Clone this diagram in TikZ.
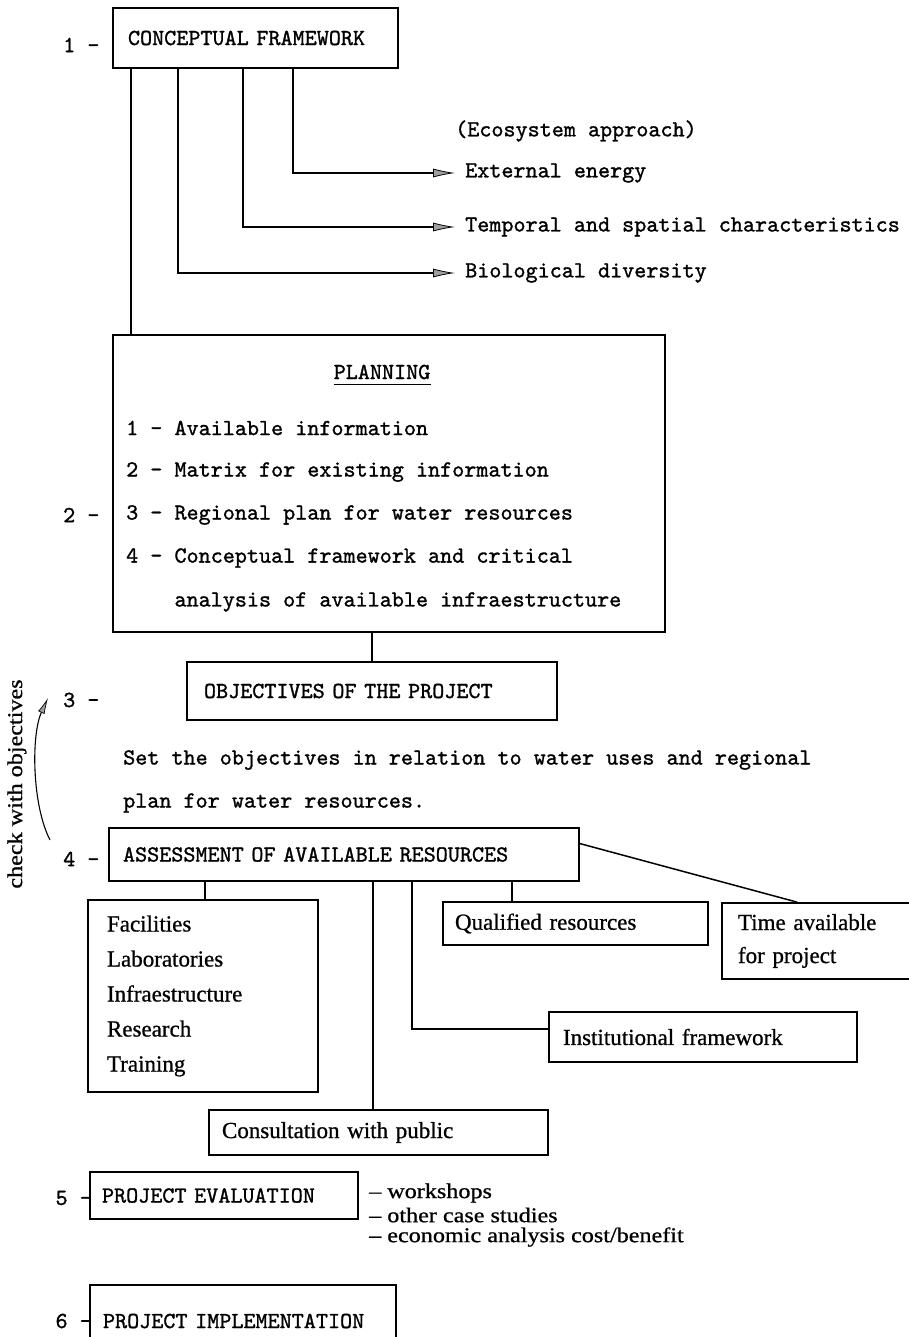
\documentclass[tikz,border=0pt]{standalone}
\usepackage{fontspec}
\newfontfamily\ttx{lmmono10-regular.otf}[FakeBold=1.2]
\newfontfamily\serifL{Liberation Serif}[FakeBold=0.8]
\newfontfamily\serifW{Liberation Serif}[FakeStretch=1.15, FakeBold=0.8]
\usetikzlibrary{arrows.meta,calc}
\begin{document}
\begin{tikzpicture}[x=1pt,y=-1pt,
  box/.style={draw, line width=1.7pt, inner ysep=0pt, align=left},
  conn/.style={line width=1.5pt},
  tt/.style={font=\fontsize{23}{27}\ttx\selectfont, inner sep=0pt},
  rm/.style={font=\fontsize{23}{33}\serifL\selectfont, inner sep=0pt},
  rms/.style={font=\fontsize{21}{25}\serifW\selectfont, inner sep=0pt},
  garrow/.style={conn, -{Latex[length=22pt,width=9pt,fill=gray!75,line width=0.8pt]}}]
\useasboundingbox (0,0) rectangle (909,1337);
\clip (0,0) rectangle (909,1337);

% ---- boxes
\node[box, tt, inner xsep=15pt, text width=255pt, minimum height=60pt] (cf) at (255.5,38) {CONCEPTUAL FRAMEWORK};
\node[box, minimum width=552pt, minimum height=297pt] (plan) at (389,483.5) {};
\node[box, tt, inner xsep=17pt, text width=336pt, minimum height=58pt] (obj) at (372,691) {OBJECTIVES OF THE PROJECT};
\node[box, tt, inner xsep=14pt, text width=442pt, minimum height=53pt] (as) at (344,854.5) {ASSESSMENT OF AVAILABLE RESOURCES};
\node[box, font=\fontsize{23}{35}\serifL\selectfont, inner xsep=19pt, text width=192pt, minimum height=192pt] (fac) at (203,996) {Facilities\\Laboratories\\Infraestructure\\Research\\Training};
\node[box, rm, inner xsep=12pt, text width=241pt, minimum height=43pt] (qr) at (575.5,923.5) {Qualified resources};
\node[box, rm, inner xsep=16pt, text width=161pt, minimum height=76pt] (tm) at (818.5,941) {Time available\\for project};
\node[box, rm, inner xsep=14pt, text width=280pt, minimum height=50pt] (inst) at (703,1037) {Institutional framework};
\node[box, rm, inner xsep=13pt, text width=313pt, minimum height=45pt] (cons) at (378.5,1132.5) {Consultation with public};
\node[box, tt, inner xsep=12pt, text width=244pt, minimum height=47pt] (ev) at (224,1195.5) {PROJECT EVALUATION};
\node[box, tt, inner xsep=13pt, text width=280pt, minimum height=72pt] (imp) at (243,1321) {PROJECT IMPLEMENTATION};

% ---- step labels
\node[tt, anchor=west] (l1) at (63,45) {1 –};
\node[tt, anchor=west] (l2) at (63,515) {2 –};
\node[tt, anchor=west] (l3) at (63,700) {3 –};
\node[tt, anchor=west] (l4) at (63,859) {4 –};
\node[tt, anchor=east] (l5) at (92,1198) {5 –};
\node[tt, anchor=east] (l6) at (92,1321) {6 –};

% ---- ecosystem texts
\node[tt, anchor=west] (eco) at (455,131) {(Ecosystem approach)};
\node[tt, anchor=west] (ee) at (465,173) {External energy};
\node[tt, anchor=west] (ts) at (465,227) {Temporal and spatial characteristics};
\node[tt, anchor=west] (bd) at (465,273) {Biological diversity};

% ---- planning contents
\node[tt] (pl) at (382,372) {PLANNING};
\draw[line width=1.2pt] ([yshift=-5pt]pl.south west) -- ([yshift=-5pt]pl.south east);
\node[tt, anchor=west] (p1) at (126,428) {1 – Available information};
\node[tt, anchor=west] (p2) at (126,472) {2 – Matrix for existing information};
\node[tt, anchor=west] (p3) at (126,515) {3 – Regional plan for water resources};
\node[tt, anchor=west] (p4) at (126,558) {4 – Conceptual framework and critical};
\node[tt, anchor=west] (p5) at (174.3,602) {analysis of available infraestructure};

% ---- objective texts
\node[tt, anchor=west] (so1) at (123,760) {Set the objectives in relation to water uses and regional};
\node[tt, anchor=west] (so2) at (123,803) {plan for water resources.};

% ---- evaluation list
\node[rms, anchor=west] (w1) at (369,1193) {– workshops};
\node[rms, anchor=west] (w2) at (369,1215) {– other case studies};
\node[rms, anchor=west] (w3) at (369,1237) {– economic analysis cost/benefit};

% ---- check with objectives
\node[rms, rotate=90] (chk) at (17,784) {check with objectives};
\coordinate (cb) at (50,840);
\coordinate (ct) at (48,698);
\draw[line width=1.1pt, -{Latex[length=16pt,width=7pt,fill=gray!75,line width=0.7pt]}] (cb) .. controls (32,805) and (31,735) .. (ct);

% ---- connectors from conceptual framework
\coordinate (v1) at (131,300);
\coordinate (v2) at (178,273);
\coordinate (v3) at (243,227);
\coordinate (v4) at (293,173);
\draw[conn] (v1 |- cf.south) -- (v1 |- plan.north);
\draw[garrow] (v2 |- cf.south) -- (v2) -- ($(bd.west)+(-10,0)$);
\draw[garrow] (v3 |- cf.south) -- (v3) -- ($(ts.west)+(-10,0)$);
\draw[garrow] (v4 |- cf.south) -- (v4) -- ($(ee.west)+(-10,0)$);

% ---- planning to objectives
\draw[conn] (obj.north |- plan.south) -- (obj.north);

% ---- assessment connectors
\coordinate (a1) at (205,890);
\coordinate (a2) at (373,890);
\coordinate (a3) at (412,1029);
\coordinate (a4) at (512,890);
\draw[conn] (a1 |- as.south) -- (a1 |- fac.north);
\draw[conn] (a2 |- as.south) -- (a2 |- cons.north);
\draw[conn] (a3 |- as.south) -- (a3) -- (a3 -| inst.west);
\draw[conn] (a4 |- as.south) -- (a4 |- qr.north);
\draw[conn] ($(as.north east)!0.3!(as.south east)$) -- ($(tm.north west)+(76,0)$);
\end{tikzpicture}
\end{document}
